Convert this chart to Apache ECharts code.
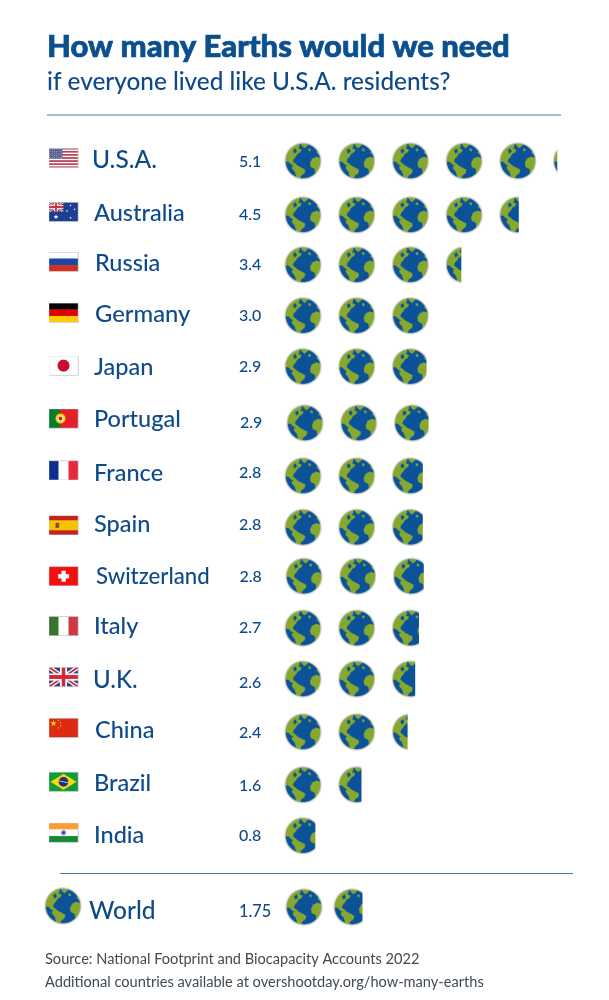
<!DOCTYPE html>
<html><head><meta charset="utf-8">
<style>html,body{margin:0;padding:0;background:#fff}#c{width:609px;height:1000px}</style>
<script src="https://cdn.jsdelivr.net/npm/echarts@6/dist/echarts.min.js"></script>
</head><body><div id="c"></div>
<script>
// ---- data ----
const countries = ['U.S.A.','Australia','Russia','Germany','Japan','Portugal','France','Spain','Switzerland','Italy','U.K.','China','Brazil','India'];
const earths = [5.1,4.5,3.4,3.0,2.9,2.9,2.8,2.8,2.8,2.7,2.6,2.4,1.6,0.8];
const earthLabels = ['5.1','4.5','3.4','3.0','2.9','2.9','2.8','2.8','2.8','2.7','2.6','2.4','1.6','0.8'];
const worldName = ['World'];
const worldEarths = [1.75];
const worldLabels = ['1.75'];

// ---- hand-layout wobble of the original, per row (px) ----
const earthDy = [0,2,0,-1,-2,2.5,3.5,3,0,0,-1,0,1,0];
const earthDx = [0,0,0,0,0,2,0,0,1,0,0,0,0,0];
const flagDy  = [-3,-1,-3,-4,-3,-2,-2,1,0,-2,-3,-4,-2,-3];
const nameDy  = [-1,0.5,-1.5,-2,-1.5,-1,1,0.5,0.5,-2,0,-1.5,0,-0.5];
const nameX   = [92,94,95,95,94,94,94,94,96,94,93,95,94,94];
const nameSize= [24.5,23.5,23.5,23.8,23.5,23.5,23.5,23.5,22.2,23.5,24,23.5,23.5,23.5];
const valueDy = [1,1.5,0.5,-0.5,-1.5,2.5,0.5,0.5,0.5,-0.5,2.5,0.5,2.5,0.5];

const NAVY='#0d4a8a', EARTH=38, FONT='Lato';

function soften(src,px){
  const c=document.createElement('canvas');c.width=src.width;c.height=src.height;
  const x=c.getContext('2d');x.filter='blur('+px+'px)';x.drawImage(src,0,0);return c;
}

function makeEarth(){
  const c=document.createElement('canvas');c.width=c.height=EARTH*4;
  const x=c.getContext('2d');
  x.scale(4,4);x.translate(19,19);
  x.beginPath();x.arc(0,0,18.6,0,7);x.fillStyle='#cdd0cb';x.fill();
  x.beginPath();x.arc(0,0,17.3,0,7);x.fillStyle='#0b5299';x.fill();
  x.save();x.beginPath();x.arc(0,0,17.3,0,7);x.clip();
  const s=1/3, ox=-68, oy=-82;
  const blob=(pts,col)=>{x.beginPath();pts.forEach((p,i)=>{const X=(p[0]+ox)*s,Y=(p[1]+oy)*s;i?x.lineTo(X,Y):x.moveTo(X,Y)});x.closePath();x.fillStyle=col||'#86a82e';x.fill()};
  // north america
  blob([[10,50],[24,40],[38,30],[58,28],[58,38],[54,44],[64,48],[60,56],[52,60],[46,70],[40,76],[38,84],[48,92],[52,96],[42,97],[32,92],[24,84],[10,84]]);
  blob([[38,50],[46,44],[50,54],[42,60]],'#0b5299');
  // greenland
  blob([[58,24],[84,24],[82,36],[72,44],[64,36]]);
  // south america
  blob([[35,97],[50,95],[60,100],[75,108],[73,118],[63,126],[56,142],[47,128],[43,114],[35,105]]);
  // africa
  blob([[89,88],[95,75],[108,69],[120,73],[130,72],[130,100],[115,124],[106,130],[103,106],[91,100]]);
  // europe / asia edge
  blob([[96,34],[108,30],[126,44],[130,66],[116,64],[108,56],[116,52],[104,46]]);
  blob([[84,44],[92,46],[90,54],[84,50]]);
  x.restore();
  return soften(c,1.6);
}

function makeFlag(name){
  const W=30,H=20,c=document.createElement('canvas');c.width=W*4;c.height=H*4;
  const x=c.getContext('2d');x.scale(4,4);
  const rect=(a,b,w,h,col)=>{x.fillStyle=col;x.fillRect(a,b,w,h)};
  const circ=(a,b,r,col)=>{x.beginPath();x.arc(a,b,r,0,7);x.fillStyle=col;x.fill()};
  const line=(a,b,e,f,w,col)=>{x.beginPath();x.moveTo(a,b);x.lineTo(e,f);x.lineWidth=w;x.strokeStyle=col;x.stroke()};
  const hs=(a)=>a.forEach((col,i)=>rect(0,H*i/a.length,W,H/a.length,col));
  const vs=(a)=>a.forEach((col,i)=>rect(W*i/a.length,0,W/a.length,H,col));
  const star=(a,b,r,col)=>{x.beginPath();for(let i=0;i<10;i++){const t=-Math.PI/2+i*Math.PI/5,R=i%2?r*.42:r;x.lineTo(a+R*Math.cos(t),b+R*Math.sin(t))}x.closePath();x.fillStyle=col;x.fill()};
  const uk=(w,h)=>{x.save();x.beginPath();x.rect(0,0,w,h);x.clip();rect(0,0,w,h,'#1f3d8a');
    line(0,0,w,h,h*.22,'#fff');line(w,0,0,h,h*.22,'#fff');line(0,0,w,h,h*.09,'#cf2a3a');line(w,0,0,h,h*.09,'#cf2a3a');
    rect(w*.38,0,w*.24,h,'#fff');rect(0,h*.32,w,h*.36,'#fff');rect(w*.44,0,w*.12,h,'#cf2a3a');rect(0,h*.4,w,h*.2,'#cf2a3a');x.restore()};
  switch(name){
    case 'U.S.A.':
      for(let i=0;i<13;i++)rect(0,H*i/13,W,H/13,i%2?'#fff':'#b5293f');
      rect(0,0,14,H*7/13,'#5a6096');
      for(let i=0;i<5;i++)for(let j=0;j<6;j++)circ(1.4+j*2.3,1.2+i*2.1,.45,'#c4c8de');
      break;
    case 'Australia':
      rect(0,0,W,H,'#1c3f94');x.save();x.beginPath();x.rect(0,0,15,10);x.clip();uk(15,10);x.restore();
      star(7.5,15,2.6,'#fff');star(22,3.5,1.2,'#fff');star(22,16,1.3,'#fff');star(18.5,9,1.2,'#fff');star(26,7.5,1.2,'#fff');
      break;
    case 'Russia': hs(['#fff','#1c47a6','#d1301f']);break;
    case 'Germany': hs(['#000','#dd0000','#ffce00']);break;
    case 'Japan': rect(0,0,W,H,'#fff');circ(15,10,6,'#c8102e');break;
    case 'Portugal':
      rect(0,0,12,H,'#0a7a2f');rect(12,0,18,H,'#e4202a');circ(12,10,5,'#f4d000');circ(12,10,3,'#fff');circ(12,10,2,'#d0202a');break;
    case 'France': vs(['#0c2f91','#fff','#e8293a']);break;
    case 'Spain':
      rect(0,0,W,H,'#c8201f');rect(0,5,W,10,'#f4c300');rect(7,7.5,3.6,5,'#8a4a20');break;
    case 'Switzerland':
      rect(0,0,W,H,'#f40f0f');rect(13,4.5,4.2,11,'#fff');rect(9.6,8,11,4.2,'#fff');break;
    case 'Italy': vs(['#36742f','#fff','#cc3a48']);break;
    case 'U.K.': uk(W,H);break;
    case 'China':
      rect(0,0,W,H,'#dd2a12');star(5,5.5,3.2,'#ffd800');star(10,2.5,1,'#ffd800');star(12,5,1,'#ffd800');star(12,8,1,'#ffd800');star(10,10,1,'#ffd800');break;
    case 'Brazil':
      rect(0,0,W,H,'#119c3a');x.beginPath();x.moveTo(15,2);x.lineTo(28,10);x.lineTo(15,18);x.lineTo(2,10);x.closePath();x.fillStyle='#f6d90f';x.fill();circ(15,10,4.8,'#1f2f80');line(10.5,9,19.5,11,.7,'#fff');break;
    case 'India':
      hs(['#ff9a30','#fff','#15883a']);circ(15,10,2.6,'#7a7fc8');circ(15,10,1,'#2a2f90');break;
  }
  x.strokeStyle='#c8c8c8';x.lineWidth=.9;x.strokeRect(.3,.3,W-.6,H-.6);
  return soften(c,1.2);
}

const earthImg=makeEarth();
const flagImgs={};countries.forEach(n=>flagImgs[n]=makeFlag(n));

function renderEarths(nudgeX,nudgeY){
  return function(params,api){
    const v=api.value(0), row=api.value(1), k=params.dataIndex, kids=[];
    const n=Math.ceil(v-1e-9);
    for(let i=0;i<n;i++){
      const p=api.coord([i,row]);
      const X=p[0]+nudgeX[k], Y=p[1]+nudgeY[k]-EARTH/2;
      const frac=Math.min(1,v-i);
      kids.push({type:'image',style:{image:earthImg,x:X,y:Y,width:EARTH,height:EARTH},
        clipPath:{type:'rect',shape:{x:X,y:Y-1,width:frac*EARTH+(frac<1?1:0),height:EARTH+2}}});
    }
    return {type:'group',children:kids};
  };
}

function rowText(x,y,text,size,weight){
  return {type:'text',style:{x:x,y:y,text:text,fill:NAVY,font:(weight||500)+' '+size+'px '+FONT,textAlign:'left',textVerticalAlign:'middle'}};
}

function renderCountryLabels(params,api){
  const k=params.dataIndex, y=api.coord([0,api.value(1)])[1];
  return {type:'group',children:[
    {type:'image',style:{image:flagImgs[countries[k]],x:48.5,y:y+flagDy[k]-10,width:30,height:20}},
    rowText(nameX[k],y+nameDy[k],countries[k],nameSize[k]),
    rowText(239+earthDx[k]*.5,y+valueDy[k],earthLabels[k],16)
  ]};
}
function renderWorldLabels(params,api){
  const k=params.dataIndex, y=api.coord([0,api.value(1)])[1];
  return {type:'group',children:[
    {type:'image',style:{image:earthImg,x:44,y:y-19,width:EARTH,height:EARTH}},
    rowText(89,y+5,worldName[k],24.5),
    rowText(239,y+6,worldLabels[k],16.3)
  ]};
}

const chart=echarts.init(document.getElementById('c'),null,{width:609,height:1000});
chart.setOption({
  animation:false,backgroundColor:'#fff',
  title:{left:42,top:26,text:'How many Earths would we need',subtext:'if everyone lived like U.S.A. residents?',itemGap:7,
    textStyle:{fontFamily:FONT,fontWeight:900,fontSize:31,color:'#0b4f8f',textBorderColor:'#0b4f8f',textBorderWidth:0.7},
    subtextStyle:{fontFamily:FONT,fontWeight:500,fontSize:24.3,color:NAVY}},
  grid:[
    {left:284,width:300,top:135.05,height:726.6,show:false},
    {left:285,width:300,top:880,height:52,show:false}
  ],
  xAxis:[
    {gridIndex:0,type:'value',min:0,max:300/53.7,show:false},
    {gridIndex:1,type:'value',min:0,max:300/48,show:false}
  ],
  yAxis:[
    {gridIndex:0,type:'category',inverse:true,data:countries,show:false},
    {gridIndex:1,type:'category',inverse:true,data:worldName,show:false}
  ],
  series:[
    {type:'custom',xAxisIndex:0,yAxisIndex:0,silent:true,clip:false,encode:{x:0,y:1},
      renderItem:renderEarths(earthDx,earthDy),data:earths.map((v,i)=>[v,i])},
    {type:'custom',xAxisIndex:0,yAxisIndex:0,silent:true,clip:false,encode:{x:0,y:1},
      renderItem:renderCountryLabels,data:earths.map((v,i)=>[v,i])},
    {type:'custom',xAxisIndex:1,yAxisIndex:1,silent:true,clip:false,encode:{x:0,y:1},
      renderItem:renderEarths([0],[1]),data:worldEarths.map((v,i)=>[v,i])},
    {type:'custom',xAxisIndex:1,yAxisIndex:1,silent:true,clip:false,encode:{x:0,y:1},
      renderItem:renderWorldLabels,data:worldEarths.map((v,i)=>[v,i])}
  ],
  graphic:[
    {type:'line',silent:true,shape:{x1:47,y1:115,x2:561,y2:115},style:{stroke:'#3f7cb3',lineWidth:1.2}},
    {type:'line',silent:true,shape:{x1:60,y1:873.5,x2:573,y2:873.5},style:{stroke:'#3f7cb3',lineWidth:1.2}},
    {type:'text',silent:true,style:{x:45,y:959,text:'Source: National Footprint and Biocapacity Accounts 2022',fill:'#3f4a55',font:'400 14.6px '+FONT,textVerticalAlign:'middle'}},
    {type:'text',silent:true,style:{x:45,y:982,text:'Additional countries available at overshootday.org/how-many-earths',fill:'#3f4a55',font:'400 14.6px '+FONT,textVerticalAlign:'middle'}}
  ]
});
</script></body></html>
